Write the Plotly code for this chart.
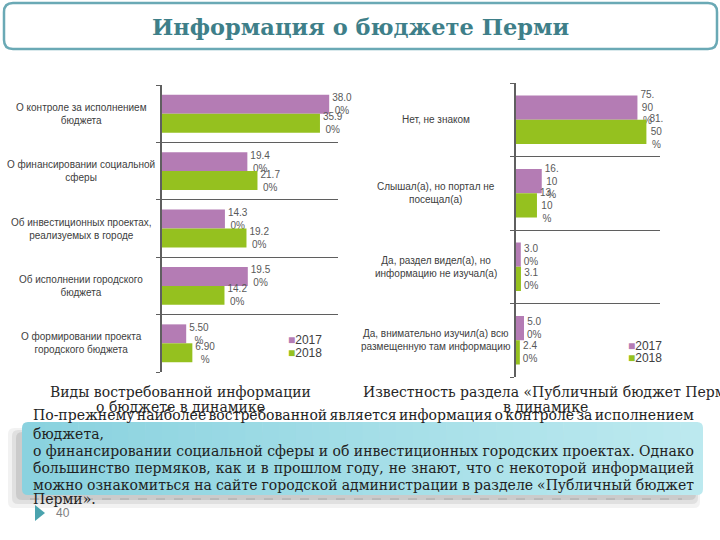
import json
import plotly.graph_objects as go

W, H = 720, 540

# ---------------- data ----------------
title_text = "Информация о бюджете Перми"
series_names = ["2017", "2018"]

left_categories = [
    "О контроле за исполнением<br>бюджета",
    "О финансировании социальной<br>сферы",
    "Об инвестиционных проектах,<br>реализуемых в городе",
    "Об исполнении городского<br>бюджета",
    "О формировании проекта<br>городского бюджета",
]
left_2017 = [38.00, 19.40, 14.30, 19.50, 5.50]
left_2018 = [35.90, 21.70, 19.20, 14.20, 6.90]

right_categories = [
    "Нет, не знаком",
    "Слышал(а), но портал не<br>посещал(а)",
    "Да, раздел видел(а), но<br>информацию не изучал(а)",
    "Да, внимательно изучил(а) всю<br>размещенную там информацию",
]
right_2017 = [75.90, 16.10, 3.00, 5.00]
right_2018 = [81.50, 13.10, 3.10, 2.40]

left_caption = ["Виды востребованной информации", "о бюджете в динамике"]
right_caption = ["Известность раздела «Публичный бюджет Перми»", "в динамике"]
paragraph_lines = [
    "По-прежнему наиболее востребованной является информация о контроле за исполнением",
    "бюджета,",
    "о финансировании социальной сферы и об инвестиционных городских проектах. Однако",
    "большинство пермяков, как и в прошлом году, не знают, что с некоторой информацией",
    "можно ознакомиться на сайте городской администрации в разделе «Публичный бюджет",
    "Перми».",
]
justified = [True, False, True, True, True, False]
page_number = "40"

# ---------------- styles ----------------
C17 = "#b47cb4"
C18 = "#95c11f"
LINE = "#5f5f5f"
LABEL = "#595959"
CAT = "#404040"
SANS = "Liberation Sans, Arial, sans-serif"
SERIF = "DejaVu Serif, serif"


def X(x):
    return x / W


def Y(y):
    return 1 - y / H


# approximate glyph widths (em) used to wrap the value labels the way the
# narrow label boxes of the original do
GW = {".": 0.278, "%": 0.889}


def wrap_label(v, limit):
    s = f"{v:.2f}%"
    lines, cur, w = [], "", 0.0
    for ch in s:
        cw = GW.get(ch, 0.556)
        if cur and w + cw > limit:
            lines.append(cur)
            cur, w = "", 0.0
        cur += ch
        w += cw
    lines.append(cur)
    return "<br>".join(lines)


def rrect(x0, y0, x1, y1, r):
    return (f"M {X(x0 + r)},{Y(y0)} L {X(x1 - r)},{Y(y0)} Q {X(x1)},{Y(y0)} {X(x1)},{Y(y0 + r)} "
            f"L {X(x1)},{Y(y1 - r)} Q {X(x1)},{Y(y1)} {X(x1 - r)},{Y(y1)} "
            f"L {X(x0 + r)},{Y(y1)} Q {X(x0)},{Y(y1)} {X(x0)},{Y(y1 - r)} "
            f"L {X(x0)},{Y(y0 + r)} Q {X(x0)},{Y(y0)} {X(x0 + r)},{Y(y0)} Z")


fig = go.Figure()

nL = len(left_categories)
nR = len(right_categories)
posL = list(range(nL))
posR = list(range(nR))

for name, vals, col in [(series_names[0], left_2017, C17), (series_names[1], left_2018, C18)]:
    fig.add_trace(go.Bar(
        x=vals, y=posL, orientation="h", name=name, marker=dict(color=col, line=dict(width=0)),
        text=[wrap_label(v, 2.1) for v in vals], textposition="outside",
        textfont=dict(family=SANS, size=10, color=LABEL), constraintext="none",
        cliponaxis=False, showlegend=False, hoverinfo="skip", xaxis="x", yaxis="y"))

for name, vals, col in [(series_names[0], right_2017, C17), (series_names[1], right_2018, C18)]:
    fig.add_trace(go.Bar(
        x=vals, y=posR, orientation="h", name=name, marker=dict(color=col, line=dict(width=0)),
        text=[wrap_label(v, 1.5) for v in vals], textposition="outside",
        textfont=dict(family=SANS, size=10, color=LABEL), constraintext="none",
        cliponaxis=False, showlegend=False, hoverinfo="skip", xaxis="x2", yaxis="y2"))


def yax(n, top, bottom, anchor):
    return dict(
        domain=[Y(bottom), Y(top)], range=[n - 0.5, -0.5], anchor=anchor,
        tickmode="array", tickvals=[i - 0.5 for i in range(n)], showticklabels=False,
        ticks="outside", ticklen=4, tickcolor=LINE, tickwidth=1,
        showgrid=True, gridcolor=LINE, gridwidth=1,
        showline=True, linecolor=LINE, linewidth=1.5, zeroline=False,
        minor=dict(tickmode="array", tickvals=[n - 0.5], ticks="outside", ticklen=4,
                   tickcolor=LINE, showgrid=False),
        fixedrange=True)


def xax(left, right, rng, anchor):
    return dict(domain=[X(left), X(right)], range=rng, anchor=anchor, visible=False,
                showgrid=False, zeroline=False, fixedrange=True)


shapes = []
# title box
shapes.append(dict(type="path", path=rrect(4, 3, 717, 49, 9), xref="paper", yref="paper",
                   line=dict(color="#6aa9b5", width=2.5), fillcolor="white", layer="below"))
# shadow of the text box
for (x0, y0, x1, y1, a) in [(8, 428, 700, 508, 0.05), (12, 430, 698, 504, 0.07),
                            (16, 432, 696, 500, 0.09)]:
    shapes.append(dict(type="path", path=rrect(x0, y0, x1, y1, 6), xref="paper", yref="paper",
                       line=dict(width=0), fillcolor=f"rgba(0,0,0,{a})", layer="below"))
# text box with gradient
bx0, by0, bx1, by1, br = 22, 422, 703, 495, 6
c0 = (138, 210, 223)
c1 = (188, 233, 239)
shapes.append(dict(type="path", path=rrect(bx0, by0, bx0 + 3 * br, by1, br), xref="paper",
                   yref="paper", line=dict(width=0), fillcolor="rgb(%d,%d,%d)" % c0, layer="below"))
shapes.append(dict(type="path", path=rrect(bx1 - 3 * br, by0, bx1, by1, br), xref="paper",
                   yref="paper", line=dict(width=0), fillcolor="rgb(%d,%d,%d)" % c1, layer="below"))
ns = 40
sx0, sx1 = bx0 + br, bx1 - br
for i in range(ns):
    t = i / (ns - 1)
    col = tuple(int(round(c0[k] + (c1[k] - c0[k]) * t)) for k in range(3))
    xa = sx0 + (sx1 - sx0) * i / ns
    xb = sx0 + (sx1 - sx0) * (i + 1) / ns + 0.6
    shapes.append(dict(type="rect", x0=X(xa), x1=X(xb), y0=Y(by1), y1=Y(by0), xref="paper",
                       yref="paper", line=dict(width=0), fillcolor="rgb(%d,%d,%d)" % col,
                       layer="below"))
# dashed line under the box
shapes.append(dict(type="line", x0=X(30), x1=X(682), y0=Y(499), y1=Y(499), xref="paper",
                   yref="paper", line=dict(color="#a8a8a8", width=1, dash="dash"), layer="below"))
# page marker triangle
shapes.append(dict(type="path", path=f"M {X(35)},{Y(505)} L {X(45)},{Y(513)} L {X(35)},{Y(521)} Z",
                   xref="paper", yref="paper", line=dict(width=0), fillcolor="#4aa3ae",
                   layer="below"))

ann = []
ann.append(dict(text=f"<b>{title_text}</b>", x=X(360), y=Y(27), xref="paper", yref="paper",
                xanchor="center", yanchor="middle", showarrow=False,
                font=dict(family=SERIF, size=22.5, color="#3e7f89")))

for i, lab in enumerate(left_categories):
    ann.append(dict(text=lab, x=X(81), y=i, xref="paper", yref="y", xanchor="center",
                    yanchor="middle", align="center", showarrow=False,
                    font=dict(family=SANS, size=10, color=CAT)))
for i, lab in enumerate(right_categories):
    ann.append(dict(text=lab, x=X(436), y=i, xref="paper", yref="y2", xanchor="center",
                    yanchor="middle", align="center", showarrow=False,
                    font=dict(family=SANS, size=10, color=CAT)))

# legends
for (lx, ly0, dy) in [(286, 340, 13), (626, 346, 12)]:
    for k, (nm, col) in enumerate(zip(series_names, [C17, C18])):
        ann.append(dict(text=f'<span style="color:{col}">■</span>{nm}', x=X(lx), y=Y(ly0 + k * dy),
                        xref="paper", yref="paper", xanchor="left", yanchor="middle",
                        showarrow=False, font=dict(family=SANS, size=12, color=CAT)))

# captions
for txt, yy in zip(left_caption, [392, 407]):
    ann.append(dict(text=txt, x=X(180), y=Y(yy), xref="paper", yref="paper", xanchor="center",
                    yanchor="middle", showarrow=False,
                    font=dict(family=SERIF, size=14, color="#262626")))
for txt, yy, cx in zip(right_caption, [392, 407], [553, 545]):
    ann.append(dict(text=txt, x=X(cx), y=Y(yy), xref="paper", yref="paper", xanchor="center",
                    yanchor="middle", showarrow=False,
                    font=dict(family=SERIF, size=14, color="#262626")))

# paragraph
for txt, yy in zip(paragraph_lines, [415, 434, 451, 468, 485, 499]):
    ann.append(dict(text=txt, x=X(31), y=Y(yy), xref="paper", yref="paper", xanchor="left",
                    yanchor="middle", align="left", showarrow=False,
                    font=dict(family=SERIF, size=14, color="#222222")))

ann.append(dict(text=page_number, x=X(54), y=Y(513), xref="paper", yref="paper", xanchor="left",
                yanchor="middle", showarrow=False, font=dict(family=SANS, size=12, color="#808080")))

fig.update_layout(
    width=W, height=H, margin=dict(l=0, r=0, t=0, b=0),
    paper_bgcolor="white", plot_bgcolor="rgba(0,0,0,0)",
    barmode="group", bargap=0.34, bargroupgap=0,
    xaxis=xax(162, 338, [0, 40], "y"),
    yaxis=yax(nL, 85, 372, "x"),
    xaxis2=xax(516, 660, [0, 90], "y2"),
    yaxis2=yax(nR, 83, 377, "x2"),
    shapes=shapes, annotations=ann, showlegend=False,
)

# page margin reset + justified paragraph lines (word spacing so each line spans 661 px)
just_lines = [t for t, j in zip(paragraph_lines, justified) if j]
post = """
document.body.style.margin = '0';
var just = %s;
var target = 661;
var nodes = document.querySelectorAll('text.annotation-text');
nodes.forEach(function (t) {
  var s = (t.textContent || '').replace(/\\u00a0/g, ' ');
  if (just.indexOf(s) >= 0) {
    var n = (s.match(/ /g) || []).length;
    var w = t.getComputedTextLength();
    if (n > 0) { t.style.wordSpacing = ((target - w) / n) + 'px'; }
  }
});
""" % json.dumps(just_lines, ensure_ascii=False)

fig.write_html("out.html", post_script=post, config={"displayModeBar": False})
